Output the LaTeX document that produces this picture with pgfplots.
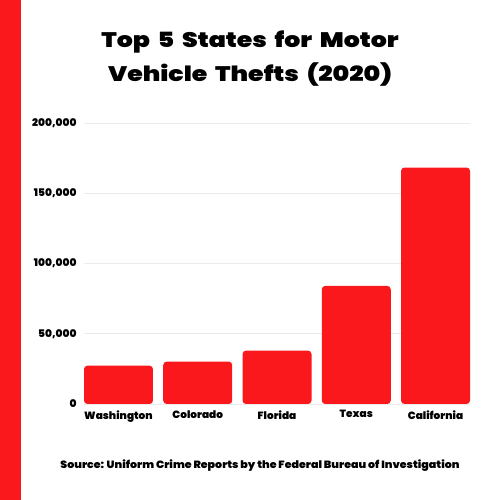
\documentclass[border=0pt]{standalone}
\usepackage{pgfplots}
\pgfplotsset{compat=1.18}
\usepackage{fontspec}
\setmainfont{Poppins}[BoldFont={Poppins Black}]
\newfontfamily\titlefont{Poppins Black}[FakeStretch=1.2, WordSpace=1.8]
\newfontfamily\srcfont{Poppins Black}[FakeStretch=1.05]
\definecolor{barred}{RGB}{250,24,28}
\begin{document}
\begin{tikzpicture}[x=1pt,y=1pt]
\path[use as bounding box] (0,0) rectangle (500,500);
\fill[barred] (0,0) rectangle (21,500);
\node[anchor=base, font=\titlefont\fontsize{21}{25}\selectfont] at (250,452) {Top 5 States for Motor};
\node[anchor=base, font=\titlefont\fontsize{21}{25}\selectfont] at (250,418) {Vehicle Thefts (2020)};
\node[anchor=base, font=\srcfont\fontsize{10.5}{12}\selectfont] at (260,31) {Source: Uniform Crime Reports by the Federal Bureau of Investigation};
\begin{axis}[
  at={(84pt,96pt)}, anchor=south west,
  scale only axis, width=386pt, height=281pt,
  xmin=-0.435, xmax=4.435, ymin=0, ymax=200000,
  ybar, bar width=69pt,
  xtick={0,1,2,3,4},
  xticklabels={Washington,Colorado,Florida,Texas,California},
  ytick={0,50000,100000,150000,200000},
  ymajorgrids,
  major grid style={draw=black!8, line width=0.7pt},
  axis line style={draw=none},
  major tick length=0pt,
  tick label style={font=\bfseries\fontsize{10.5}{12}\selectfont},
  xticklabel style={yshift=-3pt},
  yticklabel style={xshift=-4pt},
  /pgf/number format/assume math mode=true,
  scaled y ticks=false,
  yticklabel style={/pgf/number format/fixed,/pgf/number format/1000 sep={,}},
]
\addplot[fill=barred, draw=none, rounded corners=3.5pt] coordinates {
  (0,27300) (1,30200) (2,38000) (3,84060) (4,168320)
};
\end{axis}
\end{tikzpicture}
\end{document}
